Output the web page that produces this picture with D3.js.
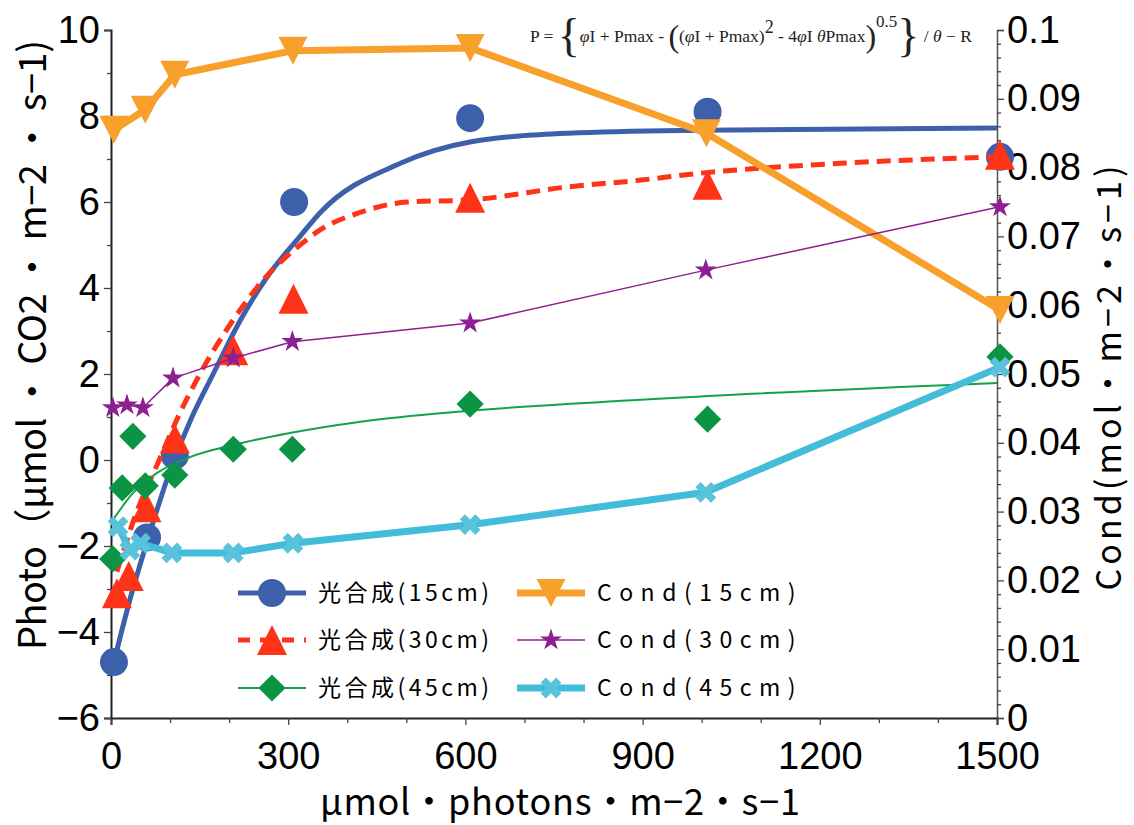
<!DOCTYPE html>
<html>
<head>
<meta charset="utf-8">
<script src="https://cdn.jsdelivr.net/npm/d3@7"></script>
<style>
body { margin: 0; background: #fff; }
svg { display: block; }
</style>
</head>
<body>
<div id="chart"></div>
<script>
// measured points (light intensity, value)
const photo15X = [5, 61, 108, 310, 608, 1010, 1505];
const photo15Y = [-4.7, -1.8, 0.1, 6.0, 7.95, 8.1, 7.05];
const photo30X = [10, 30, 60, 108, 207, 309, 608, 1010, 1505];
const photo30Y = [-3.1, -2.7, -1.1, 0.5, 2.55, 3.75, 6.1, 6.4, 7.1];
const photo45X = [3, 19, 37, 58, 108, 207, 307, 608, 1010, 1505];
const photo45Y = [-2.3, -0.65, 0.55, -0.6, -0.35, 0.25, 0.25, 1.3, 0.95, 2.4];

// fitted curves
const fit15X = [5, 37, 50, 100, 137, 173, 219, 264, 320, 354, 490, 610, 775, 1000, 1500];
const fit15Y = [-4.7, -3.0, -2.4, -0.25, 1.0, 2.0, 3.25, 4.25, 5.2, 5.75, 6.9, 7.4, 7.6, 7.67, 7.72];
const fit30X = [10, 41, 80, 117, 145, 207, 258, 320, 354, 420, 502, 608, 773, 897, 998, 1236, 1500];
const fit30Y = [-2.6, -1.3, -0.05, 1.1, 1.86, 3.26, 4.19, 5.0, 5.35, 5.75, 6.0, 6.05, 6.35, 6.51, 6.67, 6.9, 7.05];
const fit45X = [3, 37, 78, 134, 207, 303, 417, 558, 897, 1500];
const fit45Y = [-1.4, -0.77, -0.3, 0.07, 0.35, 0.63, 0.88, 1.09, 1.4, 1.79];

// stomatal conductance (right axis)
const cond15X = [5, 58, 108, 308, 608, 1008, 1505];
const cond15Y = [0.0855, 0.0884, 0.0935, 0.0970, 0.0974, 0.085, 0.0593];
const cond30X = [3, 27, 54, 105, 207, 307, 608, 1007, 1505];
const cond30Y = [0.0451, 0.0455, 0.0451, 0.0494, 0.0523, 0.0547, 0.0574, 0.0651, 0.0743];
const cond45X = [12, 32, 50, 103, 207, 308, 608, 1007, 1505];
const cond45Y = [0.0278, 0.0244, 0.0254, 0.0240, 0.0240, 0.0254, 0.0281, 0.0328, 0.0510];

const xTicks = [0, 300, 600, 900, 1200, 1500];
const leftTicks = [-6, -4, -2, 0, 2, 4, 6, 8, 10];
const rightTicks = [0, 0.01, 0.02, 0.03, 0.04, 0.05, 0.06, 0.07, 0.08, 0.09, 0.1];

const photoLabels = ["光合成(15cm)", "光合成(30cm)", "光合成(45cm)"];
const condLabels = ["Cond(15cm)", "Cond(30cm)", "Cond(45cm)"];

const width = 1134, height = 825;
const plotLeft = 111, plotRight = 997, plotTop = 30, plotBottom = 718;
const numFont = "'Liberation Sans', Arial, sans-serif";
const jpFont = "'Noto Sans CJK JP', 'Noto Sans', sans-serif";

const svg = d3.select("#chart").append("svg")
    .attr("width", width)
    .attr("height", height);

const x = d3.scaleLinear().domain([0, 1500]).range([plotLeft, plotRight]);
const yL = d3.scaleLinear().domain([-6, 10]).range([plotBottom, plotTop]);
const yR = d3.scaleLinear().domain([0, 0.1]).range([plotBottom, plotTop]);

function zip(xs, ys) { return xs.map((v, i) => [v, ys[i]]); }

// marker shapes
function triPath(w, h) {
    return `M0,${-h / 2}L${w / 2},${h / 2}L${-w / 2},${h / 2}Z`;
}
const markers = {
    circle: { d: d3.symbol(d3.symbolCircle, 615)(), rot: 0 },
    tri: { d: triPath(30, 30), rot: 0 },
    diamond: { d: d3.symbol(d3.symbolSquare, 370)(), rot: 45 },
    triDown: { d: triPath(29, 28), rot: 180 },
    star: { d: d3.symbol(d3.symbolStar, 150)(), rot: 0 },
    cross: { d: d3.symbol(d3.symbolCross, 270)(), rot: 45 }
};

function drawMarkers(g, pts, sx, sy, m, color) {
    g.selectAll(null)
        .data(pts)
        .enter()
        .append("path")
        .attr("d", markers[m].d)
        .attr("transform", d => `translate(${sx(d[0])},${sy(d[1])}) rotate(${markers[m].rot})`)
        .attr("fill", color);
}

function drawLine(g, pts, sx, sy, style, curve) {
    g.append("path")
        .datum(pts)
        .attr("fill", "none")
        .attr("stroke", style.color)
        .attr("stroke-width", style.w)
        .attr("stroke-dasharray", style.dash || null)
        .attr("stroke-linejoin", "round")
        .attr("d", d3.line().x(d => sx(d[0])).y(d => sy(d[1])).curve(curve));
}

const photoStyles = [
    { color: "#3c60aa", w: 5, m: "circle" },
    { color: "#ff3318", w: 5, dash: "14,8", m: "tri" },
    { color: "#14a24b", w: 2, m: "diamond", mc: "#0a9444" }
];
const condStyles = [
    { color: "#f8a02c", w: 7, m: "triDown" },
    { color: "#8d1f92", w: 1.5, m: "star" },
    { color: "#42bcd9", w: 7, m: "cross", mc: "#5ac3dc" }
];

// axes
svg.append("g").attr("transform", `translate(${plotLeft},0)`)
    .call(d3.axisLeft(yL).tickValues(leftTicks).tickSize(7).tickPadding(4));
svg.append("g").attr("transform", `translate(${plotLeft},0)`)
    .call(d3.axisLeft(yL).tickValues(d3.range(-5, 10, 2)).tickSize(4).tickFormat(""))
    .select(".domain").remove();

const axisR = svg.append("g").attr("transform", `translate(${plotRight},0)`)
    .call(d3.axisRight(yR).tickValues(rightTicks).tickSize(7).tickPadding(3)
        .tickFormat(d => d === 0 ? "0" : String(+d.toFixed(2))));
svg.append("g").attr("transform", `translate(${plotRight},0)`)
    .call(d3.axisRight(yR).tickValues(d3.range(0, 50).map(i => i * 0.002).filter((d, i) => i % 5 !== 0)).tickSize(4).tickFormat(""))
    .select(".domain").remove();

svg.append("g").attr("transform", `translate(0,${plotBottom})`)
    .call(d3.axisBottom(x).tickValues(xTicks).tickSize(7).tickPadding(17).tickFormat(d3.format("d")));
svg.append("g").attr("transform", `translate(0,${plotBottom})`)
    .call(d3.axisBottom(x).tickValues(d3.range(100, 1500, 100).filter(d => d % 300 !== 0)).tickSize(5).tickFormat(""))
    .select(".domain").remove();

svg.selectAll(".tick text")
    .style("font-family", numFont)
    .style("font-size", "38px")
    .attr("fill", "#000");
svg.selectAll(".domain").attr("stroke", "#222").attr("stroke-width", 2);
svg.selectAll(".tick line").attr("stroke", "#444").attr("stroke-width", 1.3);
axisR.select(".domain").attr("stroke", "#555").attr("stroke-width", 1.5);

// axis titles
svg.append("text")
    .attr("transform", "translate(46,345) rotate(-90)")
    .attr("text-anchor", "middle")
    .attr("textLength", 610)
    .attr("lengthAdjust", "spacing")
    .style("font-family", jpFont)
    .style("font-size", "38px")
    .text("Photo（μmol ・ CO2 ・ m−2 ・ s−1)");

svg.append("text")
    .attr("transform", "translate(1121,378) rotate(-90)")
    .attr("text-anchor", "middle")
    .attr("textLength", 425)
    .attr("lengthAdjust", "spacing")
    .style("font-family", jpFont)
    .style("font-size", "34px")
    .text("Cond(mol・m−2・s−1)");

svg.append("text")
    .attr("x", 560)
    .attr("y", 815)
    .attr("text-anchor", "middle")
    .attr("textLength", 480)
    .attr("lengthAdjust", "spacing")
    .style("font-family", jpFont)
    .style("font-size", "36px")
    .text("μmol・photons・m−2・s−1");

// series
const plot = svg.append("g");
const photoData = [zip(photo15X, photo15Y), zip(photo30X, photo30Y), zip(photo45X, photo45Y)];
const fitData = [zip(fit15X, fit15Y), zip(fit30X, fit30Y), zip(fit45X, fit45Y)];
const condData = [zip(cond15X, cond15Y), zip(cond30X, cond30Y), zip(cond45X, cond45Y)];

photoStyles.forEach((s, i) => {
    const g = plot.append("g");
    drawLine(g, fitData[i], x, yL, s, d3.curveMonotoneX);
    drawMarkers(g, photoData[i], x, yL, s.m, s.mc || s.color);
});
condStyles.forEach((s, i) => {
    const g = plot.append("g");
    drawLine(g, condData[i], x, yR, s, d3.curveLinear);
    drawMarkers(g, condData[i], x, yR, s.m, s.mc || s.color);
});

// legend
const legendRows = [593, 640, 688];
function legendItem(cx, cy, s, label, spacing) {
    const g = svg.append("g");
    g.append("line")
        .attr("x1", cx - 34).attr("x2", cx + 34)
        .attr("y1", cy).attr("y2", cy)
        .attr("stroke", s.color)
        .attr("stroke-width", s.w)
        .attr("stroke-dasharray", s.dash ? "12,10" : null);
    g.append("path")
        .attr("d", markers[s.m].d)
        .attr("transform", `translate(${cx},${cy}) rotate(${markers[s.m].rot})`)
        .attr("fill", s.mc || s.color);
    g.append("text")
        .attr("x", cx + 46)
        .attr("y", cy)
        .attr("dy", "0.36em")
        .style("font-family", jpFont)
        .style("font-size", "23px")
        .style("letter-spacing", spacing + "px")
        .text(label);
}
photoStyles.forEach((s, i) => legendItem(272, legendRows[i], s, photoLabels[i], 3.5));
condStyles.forEach((s, i) => legendItem(551, legendRows[i], s, condLabels[i], 7.5));

// formula in the top right corner
const formula = [
    { t: "P = " },
    { t: "{", fs: 46, off: 9 },
    { t: "φ", it: true }, { t: "I + Pmax - " },
    { t: "(", fs: 32, off: 5 },
    { t: "(" }, { t: "φ", it: true }, { t: "I + Pmax)" },
    { t: "2", fs: 18, off: -9 },
    { t: " - 4" }, { t: "φ", it: true }, { t: "I " }, { t: "θ", it: true }, { t: "Pmax" },
    { t: ")", fs: 32, off: 5 },
    { t: "0.5", fs: 17, off: -15 },
    { t: "}", fs: 46, off: 9 },
    { t: " / " }, { t: "θ", it: true }, { t: " − R" }
];
const ft = svg.append("text")
    .attr("x", 530)
    .attr("y", 42)
    .style("font-family", "'Liberation Serif', 'DejaVu Serif', serif")
    .style("font-size", "17.5px")
    .attr("fill", "#222");
let prevOff = 0;
formula.forEach(p => {
    const off = p.off || 0;
    ft.append("tspan")
        .attr("dy", off - prevOff)
        .style("font-size", (p.fs || 17.5) + "px")
        .style("font-style", p.it ? "italic" : null)
        .style("font-weight", p.fs === 46 ? "100" : null)
        .text(p.t);
    prevOff = off;
});
</script>
</body>
</html>
